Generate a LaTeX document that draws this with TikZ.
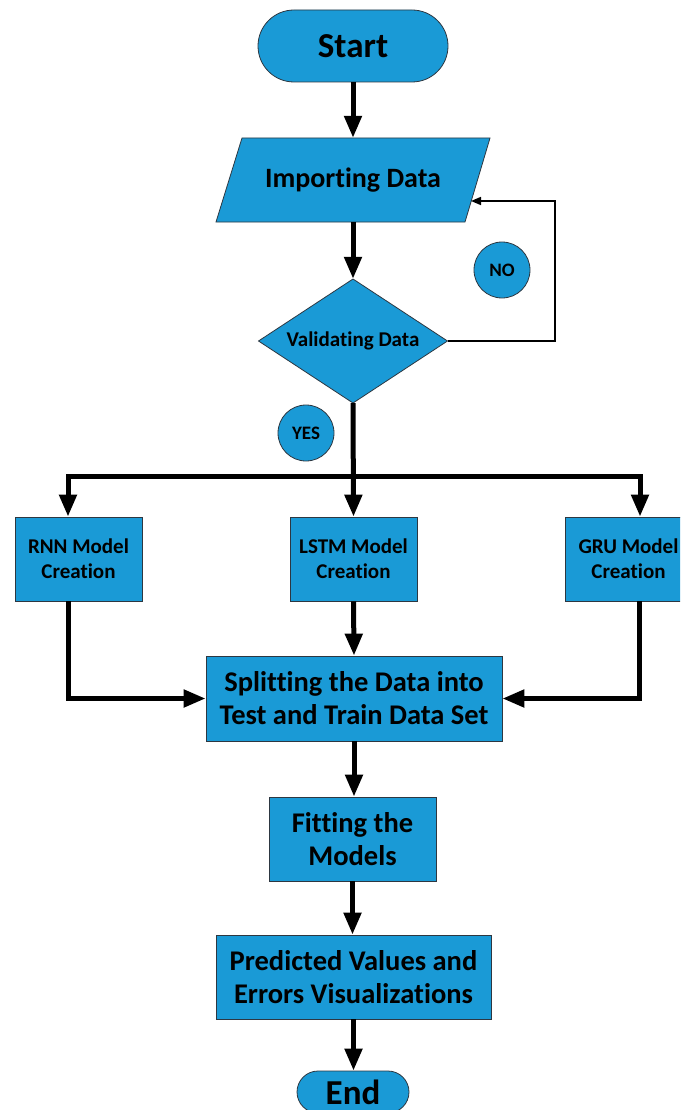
\documentclass[tikz,border=0pt]{standalone}
\usepackage{fontspec}
\setmainfont{Carlito}[Ligatures=NoCommon]
\usetikzlibrary{arrows.meta}
\definecolor{fillblue}{RGB}{26,154,214}
\definecolor{edgegray}{RGB}{45,55,65}
\begin{document}
\begin{tikzpicture}[x=1pt,y=-1pt,
  base/.style={draw=edgegray,fill=fillblue,line width=0.8pt,inner sep=0pt,align=center,text=black},
  boxnode/.style={base,rectangle},
  modelbox/.style={boxnode,minimum width=127pt,minimum height=84pt,font=\bfseries\fontsize{21}{25}\selectfont},
  bigbox/.style={boxnode,minimum height=84pt,font=\bfseries\fontsize{28.5}{33}\selectfont},
  bigarrow/.style={line width=5pt,-{Triangle[length=22pt,width=17pt]}},
  smallarrow/.style={line width=1.6pt,-{Triangle[length=10pt,width=8pt]}},
  labelcirc/.style={base,circle,minimum size=56pt,font=\bfseries\fontsize{19}{22}\selectfont}
]
\useasboundingbox (0,0) rectangle (680,1110);
\clip (0,0) rectangle (680,1110);

% Start
\node[boxnode,rounded corners=36pt,minimum width=190pt,minimum height=72pt,font=\bfseries\fontsize{35}{40}\selectfont] (start) at (353,46) {Start};

% Importing Data (parallelogram)
\path[base] (242,138) -- (490,138) -- (465,222) -- (216,222) -- cycle;
\node[inner sep=0pt,minimum width=220pt,minimum height=84pt,font=\bfseries\fontsize{28}{32}\selectfont] (imp) at (353,180) {Importing Data};
\coordinate (impR) at (471,201);

% Validating (diamond)
\path[base] (353,279) -- (447.5,341) -- (353,403) -- (258.5,341) -- cycle;
\node[inner sep=0pt,minimum width=189pt,minimum height=124pt,font=\bfseries\fontsize{21}{24}\selectfont] (val) at (353,341) {Validating Data};

% Labels
\node[labelcirc] (no) at (502,270) {NO};
\node[labelcirc] (yes) at (306,433) {YES};

% Model boxes
\node[modelbox] (rnn) at (78.5,559) {RNN Model\\Creation};
\node[modelbox] (lstm) at (353.5,559) {LSTM Model\\Creation};
\node[modelbox] (gru) at (628.5,559) {GRU Model\\Creation};

% Lower boxes
\node[bigbox,minimum width=296pt,minimum height=85pt] (split) at (354,698.5) {Splitting the Data into\\Test and Train Data Set};
\node[bigbox,minimum width=167pt] (fit) at (352.5,839) {Fitting the\\Models};
\node[bigbox,minimum width=275pt] (pred) at (353.5,977) {Predicted Values and\\Errors Visualizations};
\node[boxnode,rounded corners=21pt,minimum width=112pt,minimum height=42pt,font=\bfseries\fontsize{35}{40}\selectfont] (end) at (353,1092) {End};

% Connectors
\draw[bigarrow] (start.south) -- (imp.north);
\draw[bigarrow] (imp.south) -- (val.north);
\draw[smallarrow] (val.east) -- ++(107,0) |- (impR);
\draw[bigarrow] (val.south) -- (lstm.north);
\coordinate (junc) at (353.5,476);
\draw[bigarrow] (junc) -| ([xshift=-10.5pt]rnn.north);
\draw[bigarrow] (junc) -| ([xshift=11.5pt]gru.north);
\draw[bigarrow] ([xshift=-10.5pt]rnn.south) |- (split.west);
\draw[bigarrow] ([xshift=10.5pt]gru.south) |- (split.east);
\draw[bigarrow] (lstm.south) -- (split.north);
\draw[bigarrow] (split.south) -- (split.south |- fit.north);
\draw[bigarrow] (fit.south) -- (fit.south |- pred.north);
\draw[bigarrow] (pred.south) -- (pred.south |- end.north);
\end{tikzpicture}
\end{document}
